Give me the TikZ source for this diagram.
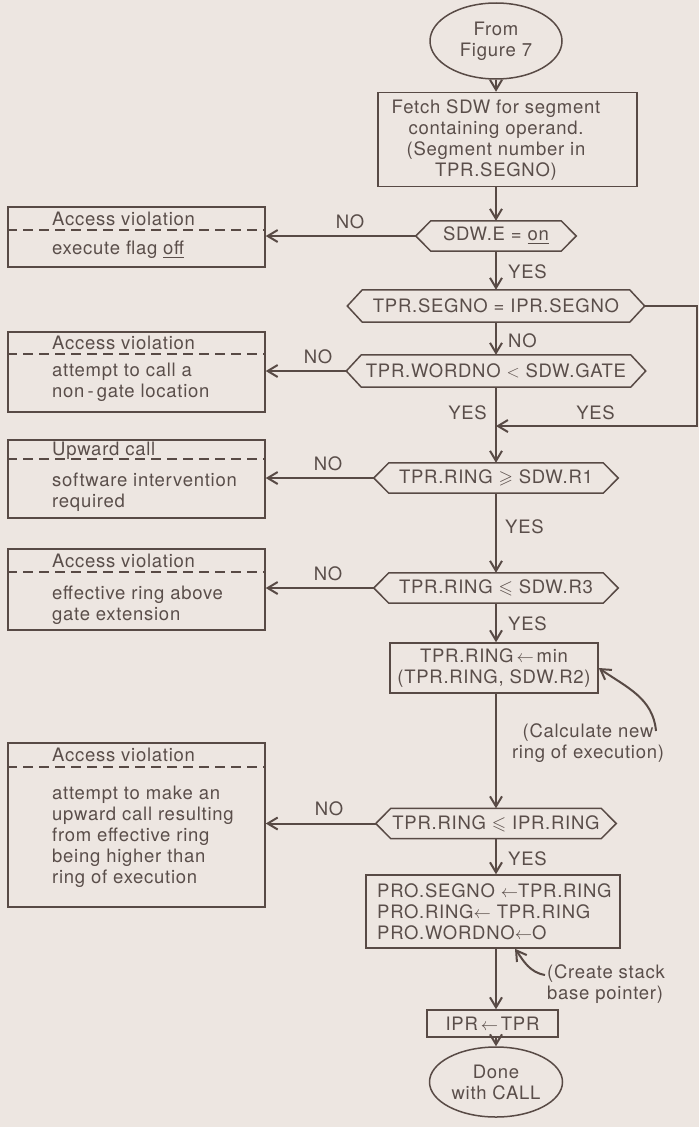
\documentclass[tikz,border=0pt]{standalone}
\usepackage{amssymb}
\usepackage{fontspec}
\setmainfont[LetterSpace=4]{TeX Gyre Heros}
\usetikzlibrary{arrows.meta,shapes.geometric}
\definecolor{paper}{RGB}{237,230,225}
\definecolor{ink}{RGB}{88,74,69}
\definecolor{inktext}{RGB}{90,78,74}

% hexagonal decision outline around a named node
\newcommand\hexoutline[1]{%
  \draw[outline] (#1.west) -- ([xshift=15pt]#1.north west) -- ([xshift=-15pt]#1.north east)
    -- (#1.east) -- ([xshift=-15pt]#1.south east) -- ([xshift=15pt]#1.south west) -- cycle;}

\begin{document}
\begin{tikzpicture}[x=1pt,y=-1pt,
  >={Straight Barb[length=10pt,width=12pt]},
  outline/.style={draw=ink, line width=1.5pt},
  flow/.style={draw=ink, line width=2pt, ->},
  txt/.style={text=inktext, font=\fontsize{18.5}{21}\selectfont, inner sep=0pt},
  sep/.style={draw=ink, line width=1.3pt, dash pattern=on 10pt off 6pt},
  hexnode/.style={txt, minimum height=30pt}]

\fill[paper] (0,0) rectangle (699,1127);
\useasboundingbox (0,0) rectangle (699,1127);

% ---------- main column ----------
\node[outline, ellipse, txt, align=center, minimum width=132pt, minimum height=76pt] (start) at (496,41) {From\\Figure 7};

\node[outline, minimum width=259pt, minimum height=94pt] (fetch) at (507.5,139.5) {};
\node[txt, align=center] (fetchtext) at (496,140) {Fetch SDW for segment\\containing operand.\\(Segment number in\\TPR.SEGNO)};

\node[hexnode, minimum width=160pt] (sdwe) at (496,236) {SDW.E = \underline{on}};
\hexoutline{sdwe}
\node[hexnode, minimum width=297pt, minimum height=32pt] (segeq) at (496,306) {TPR.SEGNO = IPR.SEGNO};
\hexoutline{segeq}
\node[hexnode, minimum width=299pt, minimum height=32pt] (word) at (496,371) {TPR.WORDNO $<$ SDW.GATE};
\hexoutline{word}
\node[hexnode, minimum width=244pt] (r1) at (496,478) {TPR.RING $\geqslant$ SDW.R1};
\hexoutline{r1}
\node[hexnode, minimum width=244pt] (r3) at (496,588) {TPR.RING $\leqslant$ SDW.R3};
\hexoutline{r3}

\node[outline, txt, align=center, minimum width=208pt, minimum height=50pt] (minb) at (494,668) {TPR.RING$\,\leftarrow\,$min\\(TPR.RING, SDW.R2)};

\node[hexnode, minimum width=240pt] (iprh) at (496,823.5) {TPR.RING $\leqslant$ IPR.RING};
\hexoutline{iprh}

\node[outline, minimum width=254pt, minimum height=73pt] (pro) at (493,911.5) {};
\node[txt, anchor=west, align=left] (protext) at (377,911.5) {PRO.SEGNO $\leftarrow$TPR.RING\\PRO.RING$\leftarrow$ TPR.RING\\PRO.WORDNO$\leftarrow$O};

\node[outline, txt, minimum width=131pt, minimum height=27pt] (iprbox) at (492.5,1023.5) {IPR$\,\leftarrow\,$TPR};
\node[outline, ellipse, txt, align=center, minimum width=133pt, minimum height=70pt] (done) at (496,1082) {Done\\with CALL};

% ---------- exception boxes (base anchor = last line baseline) ----------
\node[outline, minimum width=257pt, minimum height=60pt] (v1) at (136.5,237) {};
\draw[sep] (v1.west |- 0,230) -- (v1.east |- 0,230);
\node[txt, anchor=base west] (v1head) at (52,225) {Access violation};
\node[txt, anchor=base west] (v1body) at (52,254) {execute flag \underline{off}};

\node[outline, minimum width=257pt, minimum height=80pt] (v2) at (136.5,372) {};
\draw[sep] (v2.west |- 0,354) -- (v2.east |- 0,354);
\node[txt, anchor=base west] (v2head) at (52,349) {Access violation};
\node[txt, anchor=base west, align=left] (v2body) at (52,397) {attempt to call a\\non\,-\,gate location};

\node[outline, minimum width=257pt, minimum height=78pt] (v3) at (136.5,479) {};
\draw[sep] (v3.west |- 0,459) -- (v3.east |- 0,459);
\node[txt, anchor=base west] (v3head) at (52,455) {Upward call};
\node[txt, anchor=base west, align=left] (v3body) at (52,507) {software intervention\\required};

\node[outline, minimum width=257pt, minimum height=81pt] (v4) at (136.5,589.5) {};
\draw[sep] (v4.west |- 0,572) -- (v4.east |- 0,572);
\node[txt, anchor=base west] (v4head) at (52,567) {Access violation};
\node[txt, anchor=base west, align=left] (v4body) at (52,620) {effective ring above\\gate extension};

\node[outline, minimum width=257pt, minimum height=164pt] (v5) at (136.5,825) {};
\draw[sep] (v5.west |- 0,767) -- (v5.east |- 0,767);
\node[txt, anchor=base west] (v5head) at (52,761) {Access violation};
\node[txt, anchor=base west, align=left] (v5body) at (52,883) {attempt to make an\\upward call resulting\\from effective ring\\being higher than\\ring of execution};

% ---------- connectors ----------
\draw[flow] (start.south) -- (start.south |- fetch.north);
\draw[flow] (sdwe.north |- fetch.south) -- (sdwe.north);
\draw[flow] (sdwe.west) -- (sdwe.west -| v1.east);
\draw[flow] (sdwe.south) -- (segeq.north);
\draw[flow] (segeq.south) -- (word.north);
\draw[flow] (word.west) -- (word.west -| v2.east);
\draw[flow] (word.south) -- (r1.north);
\coordinate (loopcorner) at (697,426);
\coordinate (merge) at (496,426);
\draw[flow] (segeq.east) -| (loopcorner) -- (merge);
\draw[flow] (r1.west) -- (r1.west -| v3.east);
\draw[flow] (r1.south) -- (r3.north);
\draw[flow] (r3.west) -- (r3.west -| v4.east);
\draw[flow] (r3.south) -- (r3.south |- minb.north);
\draw[flow] (iprh.north |- minb.south) -- (iprh.north);
\draw[flow] (iprh.west) -- (iprh.west -| v5.east);
\draw[flow] (iprh.south) -- (iprh.south |- pro.north);
\draw[flow] (done.north |- pro.south) -- (done.north |- iprbox.north);
\draw[flow] (done.north |- iprbox.south) -- (done.north);

% ---------- branch labels ----------
\node[txt, anchor=base west] (yes1) at (508,278) {YES};
\node[txt, anchor=base west] (no2) at (508,347) {NO};
\node[txt, anchor=base east] (yes3) at (487,419) {YES};
\node[txt, anchor=base] (yes4) at (595.5,419) {YES};
\node[txt, anchor=base west] (yes5) at (505,533) {YES};
\node[txt, anchor=base west] (yes6) at (508,630) {YES};
\node[txt, anchor=base west] (yes7) at (508,865) {YES};
\node[txt, anchor=base] (no1) at (350,228) {NO};
\node[txt, anchor=base] (no3) at (318,363) {NO};
\node[txt, anchor=base] (no4) at (328,470) {NO};
\node[txt, anchor=base] (no5) at (328,580) {NO};
\node[txt, anchor=base] (no6) at (329,815) {NO};

% ---------- notes ----------
\node[txt, anchor=base, align=center] (calcnote) at (588,758) {(Calculate new\\ring of execution)};
\coordinate (calctail) at (656,731);
\draw[flow] (calctail) to[out=95,in=-35] (minb.east);

\node[txt, anchor=base west, align=left] (stacknote) at (547,999) {(Create stack\\base pointer)};
\coordinate (stacktail) at (545,975);
\draw[flow] (stacktail) to[out=170,in=-55] ([xshift=22pt]pro.south);
\end{tikzpicture}
\end{document}
